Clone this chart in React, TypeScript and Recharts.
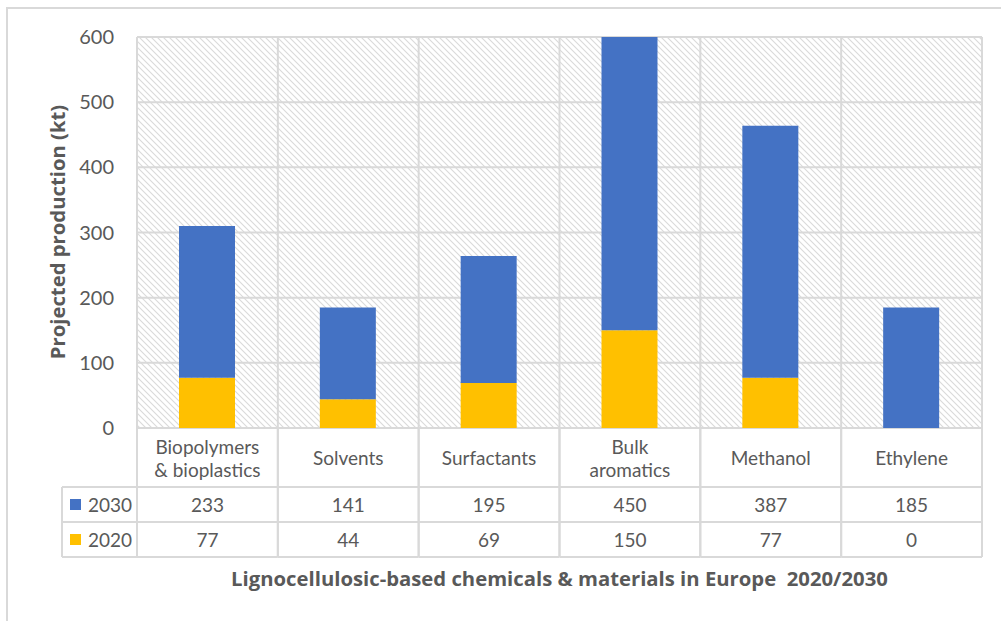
import React from 'react';
import { BarChart, Bar, XAxis, YAxis, CartesianGrid, Customized } from 'recharts';

const categories = ['Biopolymers & bioplastics', 'Solvents', 'Surfactants', 'Bulk aromatics', 'Methanol', 'Ethylene'];
const values2030 = [233, 141, 195, 450, 387, 185];
const values2020 = [77, 44, 69, 150, 77, 0];
const yTicks = [0, 100, 200, 300, 400, 500, 600];
const seriesNames = ['2030', '2020'];
const seriesColors = ['#4472C4', '#FFC000'];
const yTitle = 'Projected production (kt)';
const xTitle = 'Lignocellulosic-based chemicals & materials in Europe  2020/2030';

const data = categories.map((c, i) => ({ name: c, v2020: values2020[i], v2030: values2030[i] }));

const W = 1001;
const H = 621;
const M = { top: 37, right: 19, left: 0, bottom: 0 };
const YAXIS_W = 137;
const XAXIS_H = 193;
const PLOT_LEFT = M.left + YAXIS_W;
const PLOT_RIGHT = W - M.right;
const PLOT_BOTTOM = H - M.bottom - XAXIS_H;
const BAND = (PLOT_RIGHT - PLOT_LEFT) / categories.length;
const ROW1 = PLOT_BOTTOM + 59;
const ROW2 = ROW1 + 35;
const ROW3 = ROW2 + 35;
const FONT = 'Lato, "Open Sans", sans-serif';
const TFONT = '"Open Sans", Lato, sans-serif';
const TXT = '#595959';
const LINE = '#d9d9d9';

function wrap(s: string, max: number): string[] {
  const words = s.replace(/& /g, '&\u00a0').split(' ');
  const lines: string[] = [];
  let cur = '';
  for (const w of words) {
    const t = cur ? cur + ' ' + w : w;
    if (t.length > max && cur) {
      lines.push(cur);
      cur = w;
    } else cur = t;
  }
  if (cur) lines.push(cur);
  return lines;
}

function TableTick(props: any) {
  const { x, payload, index } = props;
  const half = BAND / 2;
  const lines = wrap(String(payload.value), 12);
  const midY = (PLOT_BOTTOM + ROW1) / 2;
  const lh = 23;
  const startY = midY - ((lines.length - 1) * lh) / 2;
  return (
    <g>
      <line x1={x - half} x2={x - half} y1={PLOT_BOTTOM} y2={ROW3} stroke={LINE} strokeWidth={2} />
      <line x1={x + half} x2={x + half} y1={PLOT_BOTTOM} y2={ROW3} stroke={LINE} strokeWidth={2} />
      <line x1={x - half} x2={x + half} y1={ROW1} y2={ROW1} stroke={LINE} strokeWidth={2} />
      <line x1={x - half} x2={x + half} y1={ROW2} y2={ROW2} stroke={LINE} strokeWidth={2} />
      <line x1={x - half} x2={x + half} y1={ROW3} y2={ROW3} stroke={LINE} strokeWidth={2} />
      {lines.map((l, i) => (
        <text key={i} x={x} y={startY + i * lh} textAnchor="middle" dominantBaseline="central" fill={TXT} fontSize={19} fontFamily={FONT}>
          {l}
        </text>
      ))}
      <text x={x} y={(ROW1 + ROW2) / 2} textAnchor="middle" dominantBaseline="central" fill={TXT} fontSize={19} fontFamily={FONT}>
        {values2030[index]}
      </text>
      <text x={x} y={(ROW2 + ROW3) / 2} textAnchor="middle" dominantBaseline="central" fill={TXT} fontSize={19} fontFamily={FONT}>
        {values2020[index]}
      </text>
    </g>
  );
}

function Extras() {
  const legL = 62;
  return (
    <g>
      <defs>
        <pattern id="hatch" width="6" height="6" patternUnits="userSpaceOnUse">
          <rect width="6" height="6" fill="#ffffff" />
          <path d="M-1,-1 L7,7 M-1,5 L1,7 M5,-1 L7,1" stroke="#dadada" strokeWidth={1.1} />
        </pattern>
      </defs>
      <path d={`M7,${H} L7,8 L${W},8`} fill="none" stroke={LINE} strokeWidth={2} />
      <line x1={legL} x2={PLOT_LEFT} y1={ROW1} y2={ROW1} stroke={LINE} strokeWidth={2} />
      <line x1={legL} x2={PLOT_LEFT} y1={ROW2} y2={ROW2} stroke={LINE} strokeWidth={2} />
      <line x1={legL} x2={PLOT_LEFT} y1={ROW3} y2={ROW3} stroke={LINE} strokeWidth={2} />
      <line x1={legL} x2={legL} y1={ROW1} y2={ROW3} stroke={LINE} strokeWidth={2} />
      {seriesNames.map((n, i) => {
        const cy = i === 0 ? (ROW1 + ROW2) / 2 : (ROW2 + ROW3) / 2;
        return (
          <g key={n}>
            <rect x={70} y={cy - 5.5} width={11} height={11} fill={seriesColors[i]} />
            <text x={88} y={cy} dominantBaseline="central" fill={TXT} fontSize={19} fontFamily={FONT}>
              {n}
            </text>
          </g>
        );
      })}
      <text
        x={57}
        y={232}
        transform="rotate(-90 57 232)"
        textAnchor="middle"
        dominantBaseline="central"
        fill={TXT}
        fontSize={20.3}
        fontWeight="bold"
        fontFamily={TFONT}
      >
        {yTitle}
      </text>
      <text x={(PLOT_LEFT + PLOT_RIGHT) / 2} y={578} textAnchor="middle" dominantBaseline="central" fill={TXT} fontSize={20.3} fontWeight="bold" fontFamily={TFONT} style={{ whiteSpace: 'pre' }}>
        {xTitle}
      </text>
    </g>
  );
}

export default function App() {
  return (
    <div style={{ position: 'absolute', left: 0, top: 0, width: W, height: H, background: '#fff' }}>
      <BarChart width={W} height={H} data={data} margin={M} barSize={56}>
        <Customized component={Extras} />
        <CartesianGrid
          stroke={LINE}
          strokeWidth={2}
          fill="url(#hatch)"
          verticalCoordinatesGenerator={() => categories.map((_, i) => PLOT_LEFT + i * BAND).concat([PLOT_RIGHT])}
          horizontalValues={yTicks}
        />
        <XAxis
          dataKey="name"
          height={XAXIS_H}
          axisLine={false}
          tickLine={false}
          interval={0}
          tick={<TableTick />}
        />
        <YAxis
          width={YAXIS_W}
          domain={[0, 600]}
          ticks={yTicks}
          axisLine={false}
          tickLine={false}
          tickSize={0}
          tickMargin={23}
          tick={{ fill: TXT, fontSize: 20, fontFamily: FONT }}
        />
        <Bar dataKey="v2020" stackId="a" fill={seriesColors[1]} isAnimationActive={false} />
        <Bar dataKey="v2030" stackId="a" fill={seriesColors[0]} isAnimationActive={false} />
      </BarChart>
    </div>
  );
}
